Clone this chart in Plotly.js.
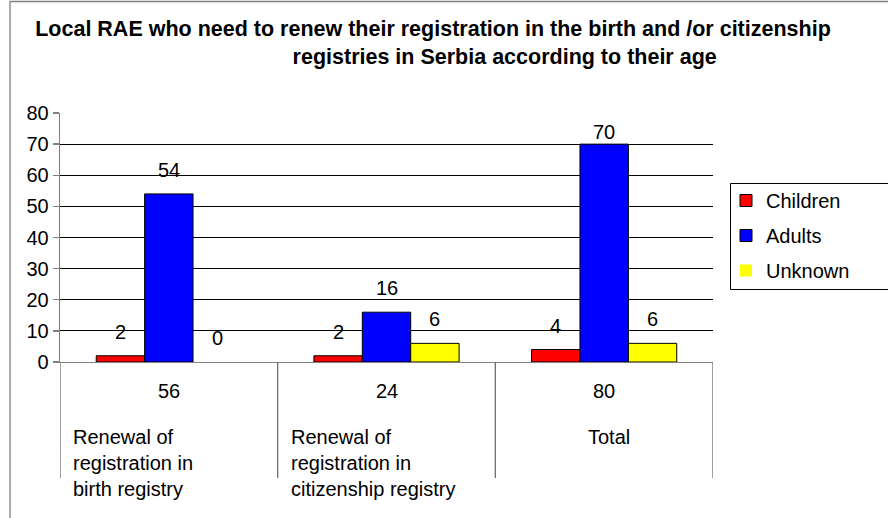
<!DOCTYPE html>
<html>
<head>
<meta charset="utf-8">
<script src="https://cdn.plot.ly/plotly-3.0.1.min.js"></script>
<style>html,body{margin:0;padding:0;background:#fff;}#chart{width:888px;height:518px;}</style>
</head>
<body>
<div id="chart"></div>
<script>
const categories = [
  "Renewal of<br>registration in<br>birth registry",
  "Renewal of<br>registration in<br>citizenship registry",
  "Total"
];
const totals = [56, 24, 80];
const seriesNames = ["Children", "Adults", "Unknown"];
const children = [2, 2, 4];
const adults = [54, 16, 70];
const unknown = [0, 6, 6];
const yTicks = [0, 10, 20, 30, 40, 50, 60, 70, 80];

const FONT = "Liberation Sans, Arial, sans-serif";
const W = 888, H = 518;
const M = {l: 60, r: 175, t: 113, b: 156};
const plotW = W - M.l - M.r;
const plotH = H - M.t - M.b;
const yMax = 80;
const bargap = 0.333;
const colors = ["#ff0000", "#0000ff", "#ffff00"];
const series = [children, adults, unknown];
const xIdx = categories.map((c, i) => i);

const traces = series.map((vals, s) => ({
  type: "bar",
  name: seriesNames[s],
  x: xIdx,
  y: vals,
  legendgroup: "g" + s,
  marker: {color: colors[s], line: {color: "#000", width: vals.map(v => v === 0 ? 0 : 1)}},
  hoverinfo: "skip"
}));

const annotations = [];
const barW = (1 - bargap) / series.length;
series.forEach((vals, s) => {
  vals.forEach((v, i) => {
    const topPx = (yMax - v) * plotH / yMax; // distance from plot top
    const shift = Math.min(24, topPx - 19);
    annotations.push({
      xref: "x", yref: "y", x: i + (s - 1) * barW, y: v,
      text: String(v), showarrow: false, yshift: shift,
      xanchor: "center", yanchor: "middle",
      font: {family: FONT, size: 20, color: "#000"}
    });
  });
});
// totals row
totals.forEach((t, i) => {
  annotations.push({
    xref: "x", yref: "paper", x: i, y: -29 / plotH,
    text: String(t), showarrow: false, xanchor: "center", yanchor: "middle",
    font: {family: FONT, size: 20, color: "#000"}
  });
});
// category labels
categories.forEach((c, i) => {
  const isTotal = (c === "Total");
  annotations.push({
    xref: "x", yref: "paper",
    x: isTotal ? i : i - 0.5,
    xshift: isTotal ? 5 : 11,
    y: -62 / plotH,
    text: c, showarrow: false,
    xanchor: isTotal ? "center" : "left", yanchor: "top", align: "left",
    font: {family: FONT, size: 20, color: "#000"}
  });
});

const shapes = [];
// category divider lines
for (let k = 0; k <= categories.length; k++) {
  shapes.push({
    type: "line", xref: "x", yref: "paper",
    x0: k - 0.5, x1: k - 0.5, y0: 0, y1: -116 / plotH,
    line: {color: "#6e6e6e", width: 1.3}
  });
}
// outer chart frame
shapes.push({
  type: "rect", xref: "paper", yref: "paper",
  x0: (10 - M.l) / plotW, x1: 1.5,
  y0: -1, y1: (H - M.b - 1.5) / plotH,
  line: {color: "#808080", width: 1.3}, fillcolor: "rgba(0,0,0,0)", layer: "below"
});
// legend frame
shapes.push({
  type: "rect", xref: "paper", yref: "paper",
  x0: (730.5 - M.l) / plotW, x1: (900 - M.l) / plotW,
  y0: (H - M.b - 289.5) / plotH, y1: (H - M.b - 183.5) / plotH,
  line: {color: "#000", width: 1}, fillcolor: "rgba(0,0,0,0)"
});

const nb = "\u00a0";
const layout = {
  width: W, height: H,
  margin: M,
  paper_bgcolor: "#fff", plot_bgcolor: "#fff",
  font: {family: FONT, size: 20, color: "#000"},
  title: {
    text: "<b>Local RAE who need to renew their registration in the birth and /or citizenship<br>" + nb.repeat(24) + "registries in Serbia according to their age</b>",
    x: 433 / W, xanchor: "center", xref: "container",
    y: 1 - 36 / H, yanchor: "top", yref: "container",
    font: {family: FONT, size: 21.5, color: "#000"}
  },
  barmode: "group", bargap: bargap, bargroupgap: 0,
  xaxis: {
    range: [-0.5, 2.5], showticklabels: false, ticks: "",
    showline: true, linecolor: "#808080", linewidth: 1.3,
    showgrid: false, zeroline: false, fixedrange: true
  },
  yaxis: {
    range: [0, yMax], tickvals: yTicks, ticks: "outside", ticklen: 6,
    tickcolor: "#808080", tickwidth: 1.3,
    showline: true, linecolor: "#808080", linewidth: 1.3,
    showgrid: true, gridcolor: "#000", gridwidth: 1,
    zeroline: false, fixedrange: true,
    tickfont: {family: FONT, size: 20, color: "#000"}
  },
  legend: {
    x: (726 - M.l) / plotW, xanchor: "left",
    y: (H - M.b - 181) / plotH, yanchor: "top",
    borderwidth: 0, bgcolor: "rgba(0,0,0,0)",
    font: {family: FONT, size: 20, color: "#000"},
    traceorder: "grouped", tracegroupgap: 6,
    itemwidth: 30
  },
  annotations: annotations,
  shapes: shapes,
  showlegend: true
};

Plotly.newPlot("chart", traces, layout, {displayModeBar: false, staticPlot: true});
</script>
</body>
</html>
